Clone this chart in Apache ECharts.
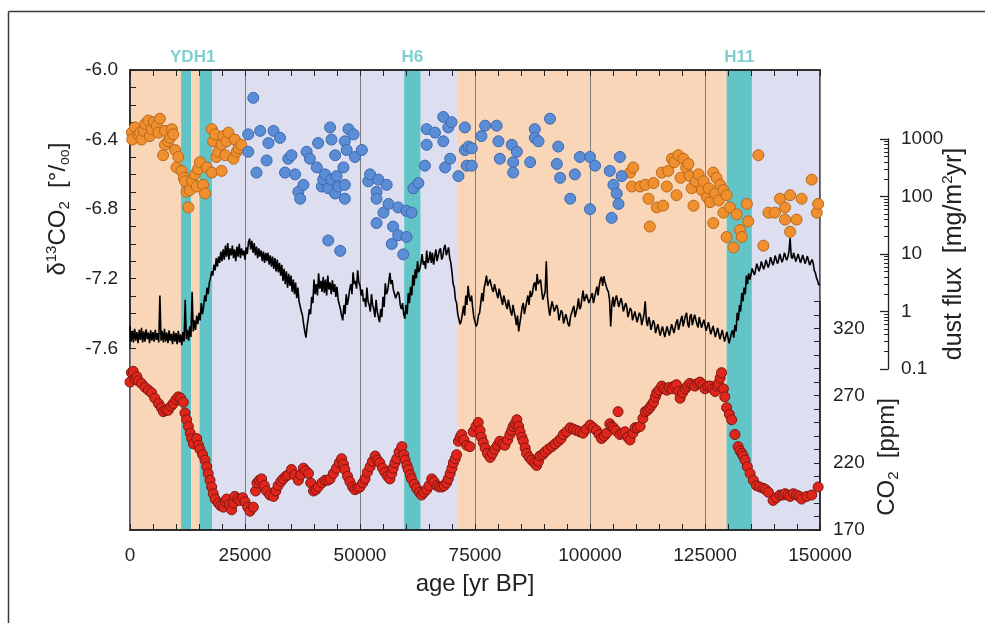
<!DOCTYPE html>
<html>
<head>
<meta charset="utf-8">
<title>δ13CO2, dust flux and CO2 over the last 150 kyr</title>
<script src="https://cdn.jsdelivr.net/npm/echarts@6/dist/echarts.min.js"></script>
<style>
  html, body { margin: 0; padding: 0; background: #ffffff; }
  #chart { width: 985px; height: 623px; }
</style>
</head>
<body>
<div id="chart"></div>
<script>
// ---------------------------------------------------------------------------
// Data
// ---------------------------------------------------------------------------

// Climate stage shading along the age axis (yr BP)
const stageStart = [0, 11100, 13300, 15100, 17900, 59600, 63200, 71300, 129700, 135200];
const stageEnd   = [11100, 13300, 15100, 17900, 59600, 63200, 71300, 129700, 135200, 150000];
const stageKind  = ['warm', 'stadial', 'warm', 'stadial', 'glacial', 'stadial', 'glacial', 'warm', 'stadial', 'glacial'];

// Named events written above the plot
const eventName  = ['YDH1', 'H6', 'H11'];
const eventStart = [11100, 59600, 129700];
const eventEnd   = [17900, 63200, 135200];

// Tick labels
const ageLabels   = [0, 25000, 50000, 75000, 100000, 125000, 150000];
const deltaLabels = ['-6.0', '-6.4', '-6.8', '-7.2', '-7.6'];
const co2Labels   = [170, 220, 270, 320];
const dustLabels  = ['0.1', '1', '10', '100', '1000'];

// δ13CO2 (‰) during interglacial periods: [age yr BP, value]
const d13cWarm = [
  [400, -6.36], [500, -6.40], [1100, -6.33], [1800, -6.37], [2200, -6.36], [2500, -6.40],
  [3000, -6.35], [3300, -6.31], [4000, -6.29], [4300, -6.38], [4700, -6.34], [5200, -6.30],
  [5800, -6.32], [6200, -6.36], [6500, -6.28], [7200, -6.49], [7600, -6.35], [7600, -6.43],
  [8300, -6.41], [8700, -6.39], [9100, -6.34], [9400, -6.37], [9800, -6.46], [10100, -6.56],
  [10500, -6.50], [11200, -6.58], [11700, -6.62], [12000, -6.64], [12300, -6.70], [12700, -6.79],
  [13000, -6.69], [13500, -6.64], [14100, -6.60], [14500, -6.67], [14800, -6.57], [15200, -6.53],
  [15900, -6.66], [16300, -6.71], [16700, -6.56], [17800, -6.59], [17800, -6.34], [18100, -6.41],
  [18500, -6.37], [18800, -6.50], [19200, -6.47], [19900, -6.58], [19900, -6.43], [20300, -6.38],
  [20700, -6.49], [21000, -6.41], [21400, -6.36], [22500, -6.51], [22800, -6.40], [23200, -6.47],
  [23600, -6.45], [24200, -6.43],
  [108700, -6.59], [109100, -6.67], [109400, -6.56], [110900, -6.67], [112000, -6.66], [112700, -6.74],
  [113000, -6.90], [113800, -6.65], [114500, -6.79], [115600, -6.59], [115900, -6.78], [116700, -6.67],
  [117000, -6.58], [117800, -6.51], [118300, -6.53], [118800, -6.72], [119200, -6.49], [119700, -6.62],
  [120300, -6.51], [120900, -6.56], [121400, -6.54], [121700, -6.61], [122100, -6.68], [122500, -6.78],
  [123000, -6.64], [123600, -6.60], [124300, -6.69], [124700, -6.64], [125400, -6.73], [125800, -6.68],
  [126100, -6.76], [126800, -6.59], [126800, -6.88], [127200, -6.71], [127500, -6.62], [128000, -6.75],
  [128300, -6.66], [129000, -6.69], [129000, -6.82], [129700, -6.72], [129700, -6.96], [130400, -6.79],
  [131200, -7.02], [131900, -6.83], [132600, -6.92], [133000, -6.96], [134100, -6.77], [134400, -6.87],
  [136600, -6.49], [137700, -7.01], [138800, -6.82], [140200, -6.82], [141300, -6.74], [142400, -6.79],
  [142400, -6.86], [143500, -6.72], [143500, -6.93], [144900, -6.86], [146000, -6.74], [148200, -6.63],
  [149300, -6.82], [149600, -6.77]
];

// δ13CO2 (‰) during glacial periods: [age yr BP, value]
const d13cCold = [
  [25700, -6.37], [25700, -6.47], [26800, -6.16], [27500, -6.59], [28300, -6.35], [29700, -6.52],
  [30100, -6.42], [31200, -6.35], [32600, -6.39], [33700, -6.59], [34400, -6.51], [35100, -6.49],
  [35900, -6.60], [36600, -6.70], [37000, -6.74], [37700, -6.66], [38400, -6.47], [39100, -6.51],
  [40600, -6.56], [40900, -6.42], [41700, -6.67], [42000, -6.63], [42400, -6.60], [43100, -6.68],
  [43100, -6.98], [43500, -6.33], [43800, -6.40], [43800, -6.63], [44600, -6.49], [44600, -6.71],
  [44900, -6.61], [45300, -6.67], [45700, -7.04], [46400, -6.56], [46700, -6.66], [46700, -6.74],
  [46700, -6.41], [47100, -6.46], [47500, -6.34], [48600, -6.37], [48900, -6.50], [50400, -6.46],
  [51800, -6.64], [52200, -6.60], [53600, -6.70], [53600, -6.74], [53600, -6.88], [54000, -6.63],
  [55100, -6.82], [55800, -6.66], [56200, -6.77], [56900, -7.00], [57200, -6.90], [58300, -6.79],
  [58300, -6.95], [59400, -7.06], [60100, -6.81], [60100, -6.96], [61200, -6.82], [61600, -6.68],
  [62700, -6.65], [64100, -6.55], [64500, -6.34], [64500, -6.43], [66300, -6.36], [68100, -6.27],
  [68100, -6.41], [68500, -6.56], [69200, -6.33], [69600, -6.51], [69900, -6.30], [71400, -6.61],
  [72800, -6.33], [72800, -6.46], [73200, -6.55], [73600, -6.44], [74300, -6.45], [74300, -6.55],
  [76400, -6.38], [77200, -6.32], [79700, -6.32], [80100, -6.41], [80400, -6.51], [83000, -6.43],
  [83300, -6.53], [83300, -6.59], [84100, -6.47], [87000, -6.53], [88000, -6.34], [88000, -6.39],
  [88800, -6.41], [91300, -6.28], [92800, -6.54], [93100, -6.44], [93500, -6.62], [95700, -6.74],
  [96700, -6.60], [97800, -6.50], [100000, -6.50], [100000, -6.80], [101100, -6.55], [104300, -6.58],
  [104700, -6.85], [105100, -6.66], [105800, -6.71], [106200, -6.77], [106500, -6.50], [106900, -6.61]
];

// Dust flux (mg/m²yr), one value every 250 yr from 0 to 150000 yr BP (20 values per row = 5 kyr)
const dustFirstAge = 0;
const dustStep = 250;
const dustFlux = [
  0.55, 0.30, 0.46, 0.29, 0.50, 0.31, 0.44, 0.28, 0.48, 0.32, 0.52, 0.29, 0.45, 0.30, 0.49, 0.33, 0.43, 0.28, 0.47, 0.31,
  0.44, 0.30, 0.48, 0.32, 0.42, 0.29, 1.9, 0.31, 0.46, 0.29, 0.50, 0.30, 0.43, 0.28, 0.47, 0.31, 0.41, 0.27, 0.45, 0.30,
  0.42, 0.27, 0.46, 0.29, 0.40, 0.26, 0.44, 0.30, 1.6, 0.33, 0.48, 0.31, 0.55, 0.36, 2.2, 0.45, 0.70, 0.48, 0.85, 0.60,
  0.95, 0.70, 1.4, 0.90, 1.2, 1.9, 1.5, 2.6, 2.0, 3.2, 3.8, 5.0, 4.2, 6.5, 5.2, 8.5, 6.0, 9.0, 7.0, 11,
  7.5, 12, 8.0, 14, 9.0, 15.5, 8.0, 12.5, 9.5, 14, 8.5, 12, 7.5, 13.5, 9.0, 15, 8.5, 12.5, 9.5, 11.5,
  8.0, 13, 10, 16, 18.5, 12, 17, 10.5, 15.5, 9.5, 13.5, 8.5, 12.5, 9.0, 11.5, 7.5, 11, 7.0, 10.5, 7.5,
  10.5, 6.5, 9.5, 6.0, 9.0, 5.5, 8.5, 5.0, 8.0, 4.8, 7.0, 4.2, 6.5, 3.4, 5.5, 3.0, 5.0, 2.6, 4.5, 2.8,
  4.2, 2.2, 3.6, 2.0, 3.2, 1.7, 2.6, 1.5, 1.6, 1.0, 0.85, 0.6, 0.45, 0.35, 0.55, 0.75, 1.1, 0.9, 1.8, 1.4,
  3.6, 2.0, 3.0, 1.9, 4.6, 2.5, 3.4, 2.2, 4.0, 2.1, 3.6, 1.9, 4.2, 2.4, 3.2, 2.0, 3.5, 2.2, 3.0, 1.8,
  2.7, 1.6, 1.7, 1.1, 0.85, 0.7, 1.3, 0.9, 2.0, 1.3, 1.7, 2.4, 3.0, 2.0, 4.8, 3.0, 3.4, 2.5, 5.2, 3.2,
  2.8, 1.9, 2.4, 1.5, 1.7, 1.2, 2.6, 1.5, 1.3, 1.0, 2.0, 1.3, 1.1, 0.8, 1.6, 1.0, 0.8, 0.65, 1.1, 0.8,
  1.8, 1.2, 3.1, 2.0, 2.3, 3.2, 4.7, 3.0, 3.5, 2.4, 2.6, 1.7, 1.6, 2.2, 2.0, 1.3, 1.1, 1.4, 0.9, 0.75,
  1.3, 0.9, 2.1, 1.4, 2.7, 1.9, 4.3, 2.8, 5.4, 3.8, 7.5, 4.8, 5.5, 7.0, 10, 6.5, 7.5, 5.5, 11.5, 7.0,
  8.0, 11, 7.0, 10.5, 6.5, 9.0, 12, 7.5, 8.0, 11.5, 12.5, 8.0, 9.0, 12.5, 14.5, 9.5, 10, 13, 8.5, 7.0,
  4.8, 3.0, 2.6, 1.6, 1.4, 0.9, 0.95, 0.6, 0.68, 0.9, 1.25, 0.85, 1.9, 1.3, 2.8, 1.8, 1.5, 1.9, 1.15, 0.8,
  0.75, 0.55, 0.62, 0.85, 0.95, 1.4, 2.1, 1.5, 2.6, 3.2, 4.2, 2.8, 2.8, 3.6, 3.7, 2.4, 2.2, 3.0, 3.0, 2.0,
  1.7, 2.5, 2.4, 1.6, 1.3, 1.9, 2.0, 1.3, 1.1, 1.6, 1.7, 1.0, 0.85, 1.3, 1.35, 0.8, 0.58, 0.85, 0.45, 0.62,
  0.85, 1.2, 1.4, 0.9, 0.95, 1.5, 1.9, 1.3, 2.3, 1.8, 2.1, 2.9, 3.2, 2.3, 4.5, 3.0, 2.8, 3.6, 2.3, 1.6,
  1.5, 2.2, 7.5, 1.8, 1.2, 0.85, 1.15, 1.5, 1.4, 1.0, 0.95, 1.3, 1.1, 0.7, 0.75, 1.05, 0.95, 0.62, 0.62, 0.9,
  0.85, 0.6, 0.55, 0.8, 0.78, 1.1, 1.25, 0.8, 0.85, 1.2, 1.7, 1.1, 1.2, 1.7, 2.3, 1.5, 1.4, 2.0, 2.0, 1.4,
  1.3, 1.8, 2.1, 1.4, 1.5, 2.2, 2.7, 1.9, 2.8, 3.6, 4.0, 2.8, 4.1, 3.3, 3.2, 2.4, 2.2, 1.6, 0.55, 1.3,
  1.8, 1.2, 1.6, 1.9, 1.8, 1.2, 1.3, 1.7, 1.4, 1.0, 1.05, 1.4, 1.2, 0.8, 0.85, 1.15, 1.05, 0.7, 0.72, 1.0,
  0.95, 0.65, 0.68, 0.95, 0.85, 0.58, 0.62, 0.9, 1.5, 0.7, 0.56, 0.8, 0.68, 0.48, 0.46, 0.7, 0.62, 0.42, 0.40, 0.6,
  0.58, 0.38, 0.39, 0.55, 0.52, 0.36, 0.37, 0.55, 0.58, 0.38, 0.39, 0.6, 0.63, 0.42, 0.44, 0.65, 0.73, 0.48, 0.48, 0.72,
  0.84, 0.55, 0.57, 0.85, 0.95, 0.6, 0.53, 0.82, 0.9, 0.58, 0.58, 0.88, 0.95, 0.6, 0.53, 0.8, 0.8, 0.52, 0.48, 0.72,
  0.74, 0.46, 0.43, 0.65, 0.63, 0.4, 0.37, 0.56, 0.58, 0.36, 0.34, 0.52, 0.53, 0.33, 0.31, 0.48, 0.48, 0.3, 0.29, 0.44,
  0.44, 0.28, 0.27, 0.42, 0.47, 0.35, 0.58, 0.45, 0.95, 0.7, 1.3, 1.0, 2.1, 1.5, 2.6, 2.0, 4.2, 3.0, 4.6, 3.6,
  4.4, 5.6, 5.7, 4.3, 5.3, 6.8, 6.6, 5.0, 5.8, 7.4, 7.1, 5.4, 6.3, 7.9, 7.6, 5.8, 6.8, 8.8, 8.6, 6.4,
  7.3, 9.4, 9.1, 6.8, 7.8, 10, 9.6, 7.2, 8.3, 10.5, 10.5, 7.8, 8.8, 11, 19, 9.0, 8.3, 10.5, 10, 7.4,
  7.8, 10, 9.6, 7.0, 7.3, 9.6, 9.1, 6.8, 7.8, 9.2, 8.6, 6.4, 6.8, 8.0, 7.1, 5.2, 4.7, 3.8, 3.4, 2.9,
  3.0
];

// Atmospheric CO2 (ppm): [age yr BP, value]
const co2 = [
  [0, 280], [300, 287], [700, 288], [1100, 282], [1500, 284], [1800, 281], [2500, 279], [3300, 276],
  [4000, 274], [4700, 272], [5400, 268], [6200, 264], [6800, 261], [7250, 258], [7800, 259], [8300, 259],
  [8900, 262], [9400, 264], [10000, 267], [10500, 269], [11000, 268], [11600, 265], [11950, 257], [12300, 252],
  [12700, 247], [13100, 242], [13400, 238], [13800, 234], [14500, 238], [14900, 233], [15200, 230], [15800, 226],
  [16300, 222], [16700, 217], [17000, 212], [17400, 207], [17750, 202], [18100, 197], [18500, 193], [19200, 190],
  [19700, 188], [20300, 187], [20700, 191], [21000, 193], [21600, 189], [22100, 185], [22500, 190], [22800, 195],
  [23400, 193], [23900, 192], [24500, 194], [25000, 191], [25600, 187], [26100, 184], [26800, 187], [27300, 199],
  [27600, 205], [28100, 207], [28600, 208], [29200, 203], [29700, 199], [30400, 196], [31200, 195], [31700, 199],
  [32200, 203], [32800, 206], [33300, 208], [33900, 210], [34400, 211], [35100, 215], [35800, 211], [36600, 207],
  [37100, 211], [37700, 216], [38200, 214], [38800, 212], [39300, 205], [39900, 199], [40400, 200], [40900, 202],
  [41700, 205], [42400, 207], [43000, 207], [43500, 208], [44200, 212], [44900, 216], [45500, 220], [46000, 223],
  [46400, 219], [46700, 215], [47300, 210], [47800, 206], [48400, 202], [48900, 200], [49500, 201], [50000, 202],
  [50600, 205], [51100, 208], [51600, 213], [52200, 217], [52700, 221], [53300, 225], [53800, 222], [54300, 220],
  [54900, 216], [55400, 213], [56000, 210], [56500, 208], [56900, 212], [57200, 216], [57600, 220], [58000, 223],
  [58500, 228], [59100, 232], [59500, 226], [59800, 222], [60200, 218], [60500, 215], [60900, 211], [61200, 208],
  [61800, 204], [62300, 201], [62900, 198], [63400, 196], [63900, 198], [64500, 200], [65000, 203], [65600, 208],
  [66100, 206], [66700, 203], [67200, 202], [67800, 202], [68300, 203], [68800, 205], [69200, 208], [69600, 212],
  [70000, 216], [70300, 220], [70700, 223], [71000, 226], [71400, 236], [71800, 239], [72100, 241], [72600, 237],
  [73200, 233], [73900, 232], [74600, 243], [75200, 247], [75700, 250], [76100, 244], [76400, 239], [76800, 235],
  [77200, 231], [77700, 227], [78300, 224], [78800, 227], [79300, 230], [79900, 233], [80400, 236], [81000, 234],
  [81500, 233], [82100, 237], [82600, 241], [83000, 244], [83300, 247], [83700, 249], [84100, 252], [84500, 247],
  [84800, 243], [85200, 239], [85500, 236], [85900, 231], [86200, 227], [86800, 224], [87300, 222], [87900, 220],
  [88400, 218], [88800, 221], [89100, 225], [89700, 226], [90200, 228], [90900, 230], [91700, 232], [92400, 234],
  [93100, 236], [93700, 238], [94200, 241], [94900, 243], [95700, 246], [96400, 245], [97100, 244], [97800, 243],
  [98500, 242], [99200, 245], [100000, 248], [100700, 246], [101400, 244], [102000, 241], [102500, 238], [103100, 240],
  [103600, 242], [104300, 249], [104700, 247], [105100, 246], [105600, 244], [106100, 258], [106500, 241], [107000, 242],
  [107600, 243], [108200, 239], [108700, 237], [109300, 242], [109800, 246], [110300, 246], [110900, 247], [111500, 253],
  [112000, 258], [112500, 259], [113000, 261], [113400, 263], [113800, 265], [114200, 269], [114500, 272], [115000, 274],
  [115600, 277], [116100, 275], [116700, 274], [117200, 276], [117800, 275], [118300, 277], [118800, 278], [119300, 273],
  [119600, 268], [120100, 272], [120700, 275], [121200, 277], [121700, 279], [122300, 278], [122800, 277], [123400, 279],
  [123900, 280], [124500, 278], [125000, 275], [125600, 277], [126100, 277], [126700, 275], [127200, 273], [127600, 277],
  [127900, 279], [128300, 283], [128600, 287], [129000, 275], [129300, 269], [129700, 261], [130300, 256], [130800, 252],
  [131500, 241], [132200, 232], [132600, 229], [133000, 227], [133300, 225], [133700, 222], [134200, 217], [134800, 212],
  [135500, 207], [136200, 203], [136900, 202], [137700, 201], [138200, 200], [138800, 198], [139800, 192], [140500, 194],
  [141300, 196], [141900, 196], [142400, 197], [143000, 196], [143500, 195], [144200, 197], [144900, 196], [145500, 195],
  [146000, 193], [147100, 195], [148200, 196], [149600, 202]
];

// ---------------------------------------------------------------------------
// Styling
// ---------------------------------------------------------------------------
const FONT = '"Liberation Sans", Arial, Helvetica, sans-serif';
const INK = '#222222';
const stageColor = { warm: '#f9d6b8', glacial: '#dddef0', stadial: '#62c4c6' };
const eventColor = '#7fcfd2';

const PLOT = { left: 130, top: 70, width: 690, height: 460 };
const tickStyle = { color: INK, width: 1 };
const frameLine = { show: true, onZero: false, lineStyle: { color: INK, width: 1.5 } };

function hiddenX(gridIndex) {
  return { type: 'value', gridIndex: gridIndex, min: 0, max: 150000, show: false,
           axisLine: { onZero: false } };
}

// Shaded stages and event names as mark areas behind everything else
const stageAreas = stageStart.map((s, i) => [
  { xAxis: s, itemStyle: { color: stageColor[stageKind[i]] } },
  { xAxis: stageEnd[i] }
]);
const eventAreas = eventName.map((name, i) => [
  {
    name: name,
    xAxis: eventStart[i],
    itemStyle: { color: 'rgba(0,0,0,0)' },
    label: {
      show: true,
      position: 'top',
      distance: 4,
      offset: i === 0 ? [-4, 0] : [0, 0],
      color: eventColor,
      fontFamily: FONT,
      fontSize: 17,
      fontWeight: 'bold'
    }
  },
  { xAxis: eventEnd[i] }
]);

const dustSeriesData = dustFlux.map((v, i) => [dustFirstAge + i * dustStep, v]);

const chart = echarts.init(document.getElementById('chart'), null, { renderer: 'canvas' });

chart.setOption({
  animation: false,
  backgroundColor: '#ffffff',
  textStyle: { fontFamily: FONT, color: INK },
  grid: [
    // main frame
    { left: PLOT.left, top: PLOT.top, width: PLOT.width, height: PLOT.height,
      show: true, borderColor: INK, borderWidth: 1.5, backgroundColor: 'transparent' },
    // δ13CO2 panel
    { left: PLOT.left, top: PLOT.top, width: PLOT.width, height: 278.3 },
    // dust flux panel (log)
    { left: PLOT.left, top: 139, width: PLOT.width, height: 230 },
    // CO2 panel
    { left: PLOT.left, top: 301.4, width: PLOT.width, height: 228.6 }
  ],
  xAxis: [
    {
      type: 'value', gridIndex: 0, position: 'bottom', min: 0, max: 150000, interval: 25000,
      axisLine: frameLine,
      axisTick: { show: true, inside: true, length: 6, lineStyle: tickStyle },
      minorTick: { show: true, splitNumber: 5, length: 6, lineStyle: tickStyle },
      axisLabel: {
        fontSize: 19, color: INK, margin: 16, fontFamily: FONT,
        formatter: v => (ageLabels.indexOf(v) >= 0 ? String(v) : '')
      },
      splitLine: { show: true, lineStyle: { color: '#7d7d7d', width: 1 } },
      name: 'age [yr BP]', nameLocation: 'middle', nameGap: 42, nameMoveOverlap: false,
      nameTextStyle: { fontSize: 24, color: INK, fontFamily: FONT }
    },
    {
      type: 'value', gridIndex: 0, position: 'top', min: 0, max: 150000, interval: 25000,
      axisLine: frameLine,
      axisTick: { show: true, inside: true, length: 6, lineStyle: tickStyle },
      minorTick: { show: true, splitNumber: 5, length: 6, lineStyle: tickStyle },
      axisLabel: { show: false },
      splitLine: { show: false }
    },
    hiddenX(1),
    hiddenX(2),
    hiddenX(3)
  ],
  yAxis: [
    // placeholder axis for the shading series
    { type: 'value', gridIndex: 0, min: 0, max: 1, show: false, axisLine: { onZero: false } },
    // δ13CO2
    {
      type: 'value', gridIndex: 1, position: 'left', min: -7.6, max: -6.0, interval: 0.1,
      axisLine: frameLine,
      axisTick: { show: true, inside: true, length: 6, lineStyle: tickStyle },
      axisLabel: {
        fontSize: 19, color: INK, margin: 12, fontFamily: FONT,
        formatter: v => (deltaLabels.indexOf(v.toFixed(1)) >= 0 ? v.toFixed(1) : '')
      },
      splitLine: { show: false },
      name: '{d|δ}{sup|13}{d|CO}{sub|2}{d|  [°/}{oo|oo}{d|]}',
      nameLocation: 'middle', nameGap: 58, nameMoveOverlap: false,
      nameTextStyle: {
        fontFamily: FONT, color: INK, fontSize: 24,
        rich: {
          d: { fontSize: 24, fontFamily: FONT, color: INK, lineHeight: 28 },
          sup: { fontSize: 15, fontFamily: FONT, color: INK, verticalAlign: 'top', lineHeight: 28, padding: [0, 0, 6, 0] },
          sub: { fontSize: 15, fontFamily: FONT, color: INK, verticalAlign: 'bottom', lineHeight: 28, padding: [6, 0, 0, 0] },
          oo: { fontSize: 14, fontFamily: FONT, color: INK, verticalAlign: 'bottom', lineHeight: 28, padding: [4, 0, 0, 0] }
        }
      }
    },
    // dust flux (log)
    {
      type: 'log', logBase: 10, gridIndex: 2, position: 'right', offset: 68, min: 0.1, max: 1000,
      axisLine: { show: true, onZero: false, lineStyle: { color: INK, width: 1.3 } },
      axisTick: { show: true, inside: true, length: 8, lineStyle: { color: INK, width: 1.3 } },
      minorTick: { show: true, splitNumber: 9, length: 4, lineStyle: { color: INK, width: 1 } },
      axisLabel: {
        fontSize: 19, color: INK, margin: 13, fontFamily: FONT,
        formatter: v => {
          const s = String(parseFloat(Number(v).toPrecision(6)));
          return dustLabels.indexOf(s) >= 0 ? s : '';
        }
      },
      splitLine: { show: false },
      minorSplitLine: { show: false },
      name: '{d|dust flux  [mg/m}{sup|2}{d|yr]}',
      nameLocation: 'middle', nameGap: 52, nameMoveOverlap: false,
      nameTextStyle: {
        fontFamily: FONT, color: INK, fontSize: 25,
        rich: {
          d: { fontSize: 25, fontFamily: FONT, color: INK, lineHeight: 28 },
          sup: { fontSize: 15, fontFamily: FONT, color: INK, verticalAlign: 'top', lineHeight: 28, padding: [0, 0, 6, 0] }
        }
      }
    },
    // CO2
    {
      type: 'value', gridIndex: 3, position: 'right', min: 170, max: 340, interval: 10,
      axisLine: frameLine,
      axisTick: { show: true, inside: true, length: 6, lineStyle: tickStyle },
      axisLabel: {
        fontSize: 19, color: INK, margin: 13, fontFamily: FONT,
        formatter: v => (co2Labels.indexOf(v) >= 0 ? String(v) : '')
      },
      splitLine: { show: false }
    }
  ],
  graphic: [
    // page frame
    { type: 'line', silent: true, shape: { x1: 8.5, y1: 11.5, x2: 985, y2: 11.5 },
      style: { stroke: '#3a3a3a', lineWidth: 1.5 } },
    { type: 'line', silent: true, shape: { x1: 8.5, y1: 11.5, x2: 8.5, y2: 623 },
      style: { stroke: '#3a3a3a', lineWidth: 1.5 } },
    // CO2 axis title
    {
      type: 'text', silent: true, x: 887, y: 457, rotation: Math.PI / 2,
      style: {
        text: '{d|CO}{sub|2}{d|  [ppm]}',
        align: 'center', verticalAlign: 'middle',
        fill: INK, font: '24px ' + FONT,
        rich: {
          d: { fontSize: 24, fontFamily: FONT, fill: INK, lineHeight: 28 },
          sub: { fontSize: 15, fontFamily: FONT, fill: INK, verticalAlign: 'bottom', lineHeight: 28, padding: [6, 0, 0, 0] }
        }
      }
    }
  ],
  series: [
    {
      name: 'stages', type: 'line', xAxisIndex: 0, yAxisIndex: 0, data: [], silent: true,
      markArea: { silent: true, z: -1, data: stageAreas.concat(eventAreas) }
    },
    {
      name: 'dust flux', type: 'line', xAxisIndex: 3, yAxisIndex: 2, z: 4,
      data: dustSeriesData, showSymbol: false, symbol: 'none',
      lineStyle: { color: '#000000', width: 1.6 }
    },
    {
      name: 'δ13CO2 interglacial', type: 'scatter', xAxisIndex: 2, yAxisIndex: 1, z: 5,
      data: d13cWarm, symbolSize: 11,
      itemStyle: { color: '#ef8f2d', borderColor: '#b8681c', borderWidth: 1, opacity: 1 }
    },
    {
      name: 'δ13CO2 glacial', type: 'scatter', xAxisIndex: 2, yAxisIndex: 1, z: 5,
      data: d13cCold, symbolSize: 11,
      itemStyle: { color: '#5a8dd6', borderColor: '#3d68ae', borderWidth: 1, opacity: 1 }
    },
    {
      name: 'CO2', type: 'scatter', xAxisIndex: 4, yAxisIndex: 3, z: 5,
      data: co2, symbolSize: 10,
      itemStyle: { color: '#e0261c', borderColor: '#7e1710', borderWidth: 1, opacity: 1 }
    }
  ]
});
</script>
</body>
</html>
